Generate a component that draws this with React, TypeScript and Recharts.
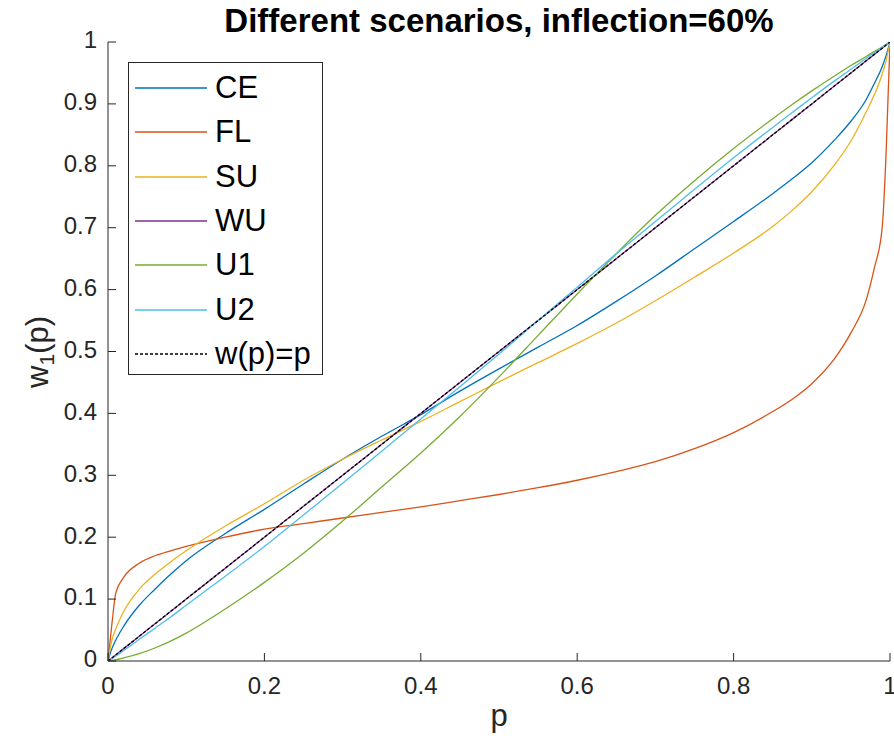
import { LineChart, Line, XAxis, YAxis, Legend, Customized } from "recharts"

const pValues = [
  0, 0.005, 0.01, 0.02, 0.04, 0.06, 0.08, 0.1, 0.15, 0.2, 0.25, 0.3, 0.35, 0.4, 0.45, 0.5,
  0.55, 0.6, 0.65, 0.7, 0.75, 0.8, 0.85, 0.875, 0.9, 0.93, 0.95, 0.97, 0.98, 0.99, 0.995, 1,
]
const ceValues = [
  0, 0.02, 0.034, 0.056, 0.09, 0.116, 0.14, 0.162, 0.206, 0.245, 0.286, 0.326, 0.363, 0.398,
  0.436, 0.472, 0.507, 0.542, 0.581, 0.622, 0.666, 0.71, 0.755, 0.779, 0.805, 0.843, 0.872,
  0.908, 0.933, 0.96, 0.978, 1,
]
const flValues = [
  0, 0.06, 0.11, 0.135, 0.158, 0.17, 0.178, 0.185, 0.2, 0.213, 0.222, 0.231, 0.24, 0.249,
  0.259, 0.269, 0.28, 0.292, 0.306, 0.322, 0.343, 0.369, 0.403, 0.423, 0.448, 0.49, 0.53,
  0.585, 0.635, 0.7, 0.82, 1,
]
const suValues = [
  0, 0.034, 0.052, 0.08, 0.116, 0.14, 0.16, 0.178, 0.218, 0.254, 0.292, 0.326, 0.357, 0.387,
  0.419, 0.451, 0.482, 0.513, 0.546, 0.582, 0.62, 0.659, 0.702, 0.728, 0.758, 0.803, 0.84,
  0.888, 0.915, 0.948, 0.97, 1,
]
const wuValues = [
  0, 0.005, 0.01, 0.02, 0.04, 0.06, 0.08, 0.1, 0.15, 0.2, 0.25, 0.3, 0.35, 0.4, 0.45, 0.5,
  0.55, 0.6, 0.65, 0.7, 0.75, 0.8, 0.85, 0.875, 0.9, 0.93, 0.95, 0.97, 0.98, 0.99, 0.995, 1,
]
const u1Values = [
  0, 0.001, 0.002, 0.005, 0.012, 0.021, 0.032, 0.045, 0.084, 0.127, 0.174, 0.226, 0.281, 0.336,
  0.395, 0.459, 0.526, 0.593, 0.658, 0.72, 0.776, 0.828, 0.876, 0.899, 0.921, 0.946, 0.962,
  0.977, 0.985, 0.992, 0.996, 1,
]
const u2Values = [
  0, 0.004, 0.008, 0.017, 0.035, 0.053, 0.071, 0.09, 0.137, 0.185, 0.236, 0.287, 0.339, 0.391,
  0.443, 0.496, 0.55, 0.604, 0.658, 0.71, 0.762, 0.813, 0.862, 0.886, 0.91, 0.938, 0.956,
  0.974, 0.983, 0.991, 0.996, 1,
]
const identityValues = [
  0, 0.005, 0.01, 0.02, 0.04, 0.06, 0.08, 0.1, 0.15, 0.2, 0.25, 0.3, 0.35, 0.4, 0.45, 0.5,
  0.55, 0.6, 0.65, 0.7, 0.75, 0.8, 0.85, 0.875, 0.9, 0.93, 0.95, 0.97, 0.98, 0.99, 0.995, 1,
]

const xTicks = [0, 0.2, 0.4, 0.6, 0.8, 1]
const yTicks = [0, 0.1, 0.2, 0.3, 0.4, 0.5, 0.6, 0.7, 0.8, 0.9, 1]

const data = pValues.map((p, i) => ({
  p,
  CE: ceValues[i],
  FL: flValues[i],
  SU: suValues[i],
  WU: wuValues[i],
  U1: u1Values[i],
  U2: u2Values[i],
  identity: identityValues[i],
}))

const series = [
  { key: "CE", name: "CE", color: "#0072BD", dash: undefined },
  { key: "FL", name: "FL", color: "#D95319", dash: undefined },
  { key: "SU", name: "SU", color: "#EDB120", dash: undefined },
  { key: "WU", name: "WU", color: "#7E2F8E", dash: undefined },
  { key: "U1", name: "U1", color: "#77AC30", dash: undefined },
  { key: "U2", name: "U2", color: "#4DBEEE", dash: undefined },
  { key: "identity", name: "w(p)=p", color: "#000000", dash: "3 2" },
]

const FONT = "'Liberation Sans', Arial, Helvetica, sans-serif"
const AXIS = "#262626"

function XTick({ x, y, payload }: any) {
  return (
    <g>
      <line x1={x} x2={x} y1={y} y2={y - 8} stroke={AXIS} strokeWidth={1} />
      <text x={x} y={y + 27} textAnchor="middle" dominantBaseline="middle" fontSize={24} fill={AXIS} fontFamily={FONT}>
        {payload.value}
      </text>
    </g>
  )
}

function YTick({ x, y, payload }: any) {
  return (
    <g>
      <line x1={x} x2={x + 8} y1={y} y2={y} stroke={AXIS} strokeWidth={1} />
      <text x={x - 11} y={y} textAnchor="end" dominantBaseline="middle" fontSize={24} fill={AXIS} fontFamily={FONT}>
        {payload.value}
      </text>
    </g>
  )
}

function LegendBox() {
  return (
    <div
      style={{
        width: 195,
        height: 313,
        boxSizing: "border-box",
        border: "1px solid #262626",
        background: "#fff",
        position: "relative",
        fontFamily: FONT,
      }}
    >
      {series.map((s, i) => (
        <div
          key={s.key}
          style={{ position: "absolute", left: 0, top: 25 + i * 44.3 - 22, height: 44, display: "flex", alignItems: "center" }}
        >
          <svg width={86} height={44}>
            <line x1={6} x2={78} y1={22} y2={22} stroke={s.color} strokeWidth={1.3} strokeDasharray={s.dash} />
          </svg>
          <span style={{ fontSize: 31, color: "#000", lineHeight: "44px" }}>{s.name}</span>
        </div>
      ))}
    </div>
  )
}

function Labels() {
  return (
    <g fontFamily={FONT}>
      <text x={499} y={23} textAnchor="middle" dominantBaseline="middle" fontSize={33} fontWeight="bold" fill="#000">
        Different scenarios, inflection=60%
      </text>
      <text x={499} y={718} textAnchor="middle" dominantBaseline="middle" fontSize={31} fill={AXIS}>
        p
      </text>
      <text
        x={40}
        y={352}
        textAnchor="middle"
        dominantBaseline="middle"
        fontSize={31}
        fill={AXIS}
        transform="rotate(-90 40 352)"
      >
        w<tspan fontSize={21} dy={8}>1</tspan>
        <tspan dy={-8}>(p)</tspan>
      </text>
    </g>
  )
}

export default function App() {
  return (
    <div style={{ position: "absolute", left: 0, top: 0, width: 894, height: 746, background: "#fff" }}>
      <LineChart width={894} height={746} data={data} margin={{ top: 42, right: 4, bottom: 0, left: 0 }}>
        <XAxis
          dataKey="p"
          type="number"
          domain={[0, 1]}
          ticks={xTicks}
          interval={0}
          height={85}
          tickSize={0}
          tickMargin={0}
          tickLine={false}
          tick={<XTick />}
          stroke={AXIS}
          allowDataOverflow
        />
        <YAxis
          type="number"
          domain={[0, 1]}
          ticks={yTicks}
          interval={0}
          width={108}
          tickSize={0}
          tickMargin={0}
          tickLine={false}
          tick={<YTick />}
          stroke={AXIS}
          allowDataOverflow
        />
        {series.map((s) => (
          <Line
            key={s.key}
            type="monotone"
            dataKey={s.key}
            name={s.name}
            stroke={s.color}
            strokeWidth={1.3}
            strokeDasharray={s.dash}
            dot={false}
            activeDot={false}
            isAnimationActive={false}
          />
        ))}
        <Legend
          layout="vertical"
          align="center"
          verticalAlign="middle"
          content={() => <LegendBox />}
          wrapperStyle={{ position: "absolute", left: 128, top: 62, width: 195, height: 313 }}
        />
        <Customized component={Labels} />
      </LineChart>
    </div>
  )
}
